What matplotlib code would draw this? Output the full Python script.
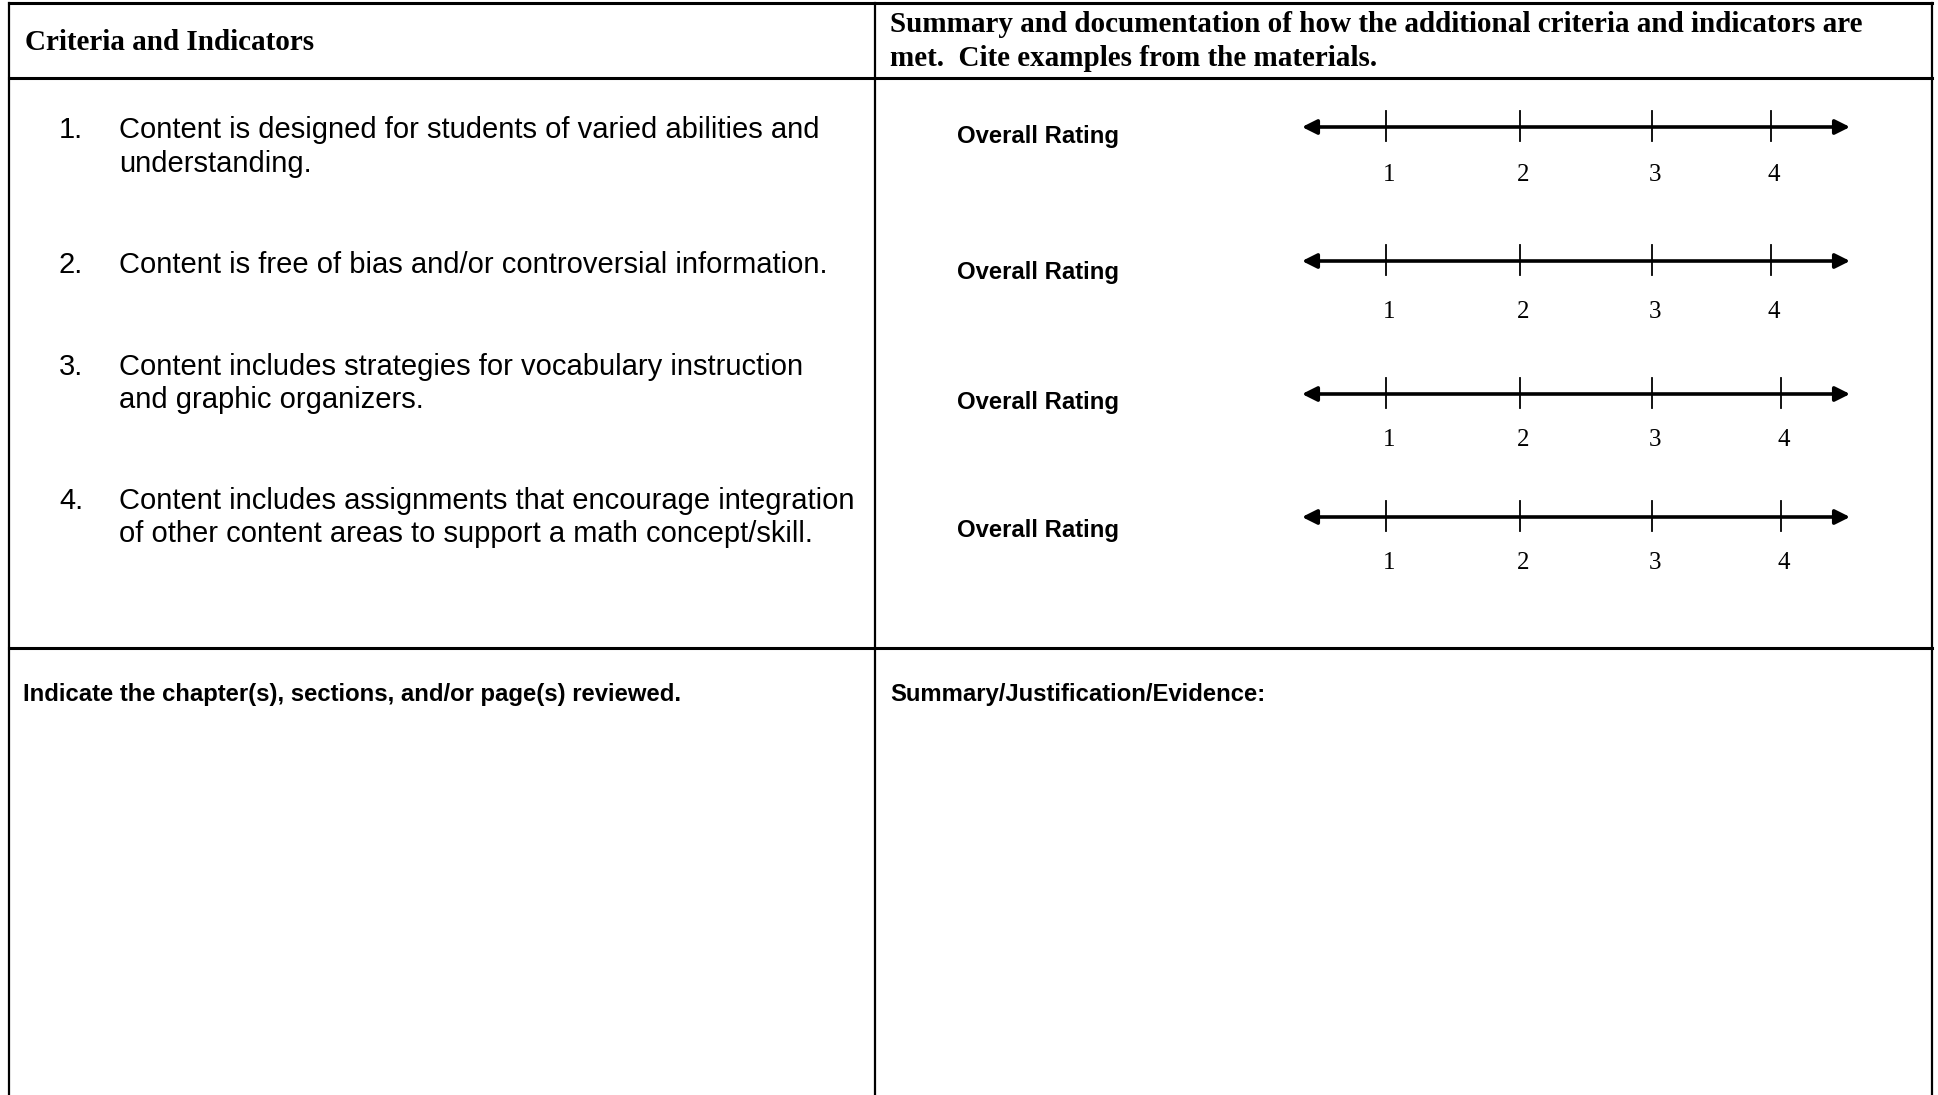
import matplotlib.pyplot as plt
from matplotlib.patches import FancyArrowPatch

# --- contenu du formulaire ---
header_left = "Criteria and Indicators"
header_right = ["Summary and documentation of how the additional criteria and indicators are",
                "met.  Cite examples from the materials."]
criteria_num = ["1.", "2.", "3.", "4."]
criteria_text = [
    ["Content is designed for students of varied abilities and", "understanding."],
    ["Content is free of bias and/or controversial information."],
    ["Content includes strategies for vocabulary instruction", "and graphic organizers."],
    ["Content includes assignments that encourage integration",
     "of other content areas to support a math concept/skill."],
]
rating_label = "Overall Rating"
ratings = [1, 2, 3, 4]
bottom_left = "Indicate the chapter(s), sections, and/or page(s) reviewed."
bottom_right = "Summary/Justification/Evidence:"

W, H = 1938, 1095
fig = plt.figure(figsize=(W / 100, H / 100), dpi=100)
ax = fig.add_axes([0, 0, 1, 1])
ax.set_xlim(0, W)
ax.set_ylim(H, 0)
ax.axis('off')

serif = 'Liberation Serif'
sans = 'Liberation Sans'

# --- grille du tableau ---
x_left, x_mid, x_right = 9, 875, 1932
y_top, y_head, y_row = 3, 78, 648
ax.plot([x_left, x_right], [y_top, y_top], color='black', lw=2.2)
ax.plot([x_left, x_right], [y_head, y_head], color='black', lw=2.2)
ax.plot([x_left, x_right], [y_row, y_row], color='black', lw=2.2)
for xx in (x_left, x_mid, x_right):
    ax.plot([xx, xx], [y_top, H], color='black', lw=1.6)

# --- en-tetes ---
ax.text(25, 42, header_left, family=serif, weight='bold', fontsize=21, va='center')
for i, line in enumerate(header_right):
    ax.text(890, 25 + i * 33.5, line, family=serif, weight='bold', fontsize=21, va='center')

# --- criteres ---
row_y = [130, 265, 367, 501]
for num, lines, y0 in zip(criteria_num, criteria_text, row_y):
    ax.text(59, y0, num, family=sans, fontsize=21, va='center')
    for j, line in enumerate(lines):
        ax.text(119, y0 + j * 33.5, line, family=sans, fontsize=21, va='center')

# --- echelles de notation ---
line_y = [127, 261, 394, 517]
label_y = [136, 273, 403, 531]
num_y = [175, 312, 440, 563]
tick_x = [[1386, 1520, 1652, 1771],
          [1386, 1520, 1652, 1771],
          [1386, 1520, 1652, 1781],
          [1386, 1520, 1652, 1781]]
for ly, lab_y, ny, tx in zip(line_y, label_y, num_y, tick_x):
    ax.text(957, lab_y, rating_label, family=sans, weight='bold', fontsize=17.2, va='center')
    arr = FancyArrowPatch((1302, ly), (1850, ly), arrowstyle='<|-|>', mutation_scale=22,
                          lw=2.6, color='black', shrinkA=0, shrinkB=0)
    ax.add_patch(arr)
    for r, x in zip(ratings, tx):
        ax.plot([x, x], [ly - 16, ly + 14], color='black', lw=1.3)
        ax.text(x + 3, ny, str(r), family=serif, fontsize=18, ha='center', va='center')

# --- ligne du bas ---
ax.text(23, 694, bottom_left, family=sans, weight='bold', fontsize=17.2, va='center')
ax.text(890, 694, bottom_right, family=sans, weight='bold', fontsize=17.2, va='center')

fig.savefig('out.png', dpi=100, facecolor='white')
